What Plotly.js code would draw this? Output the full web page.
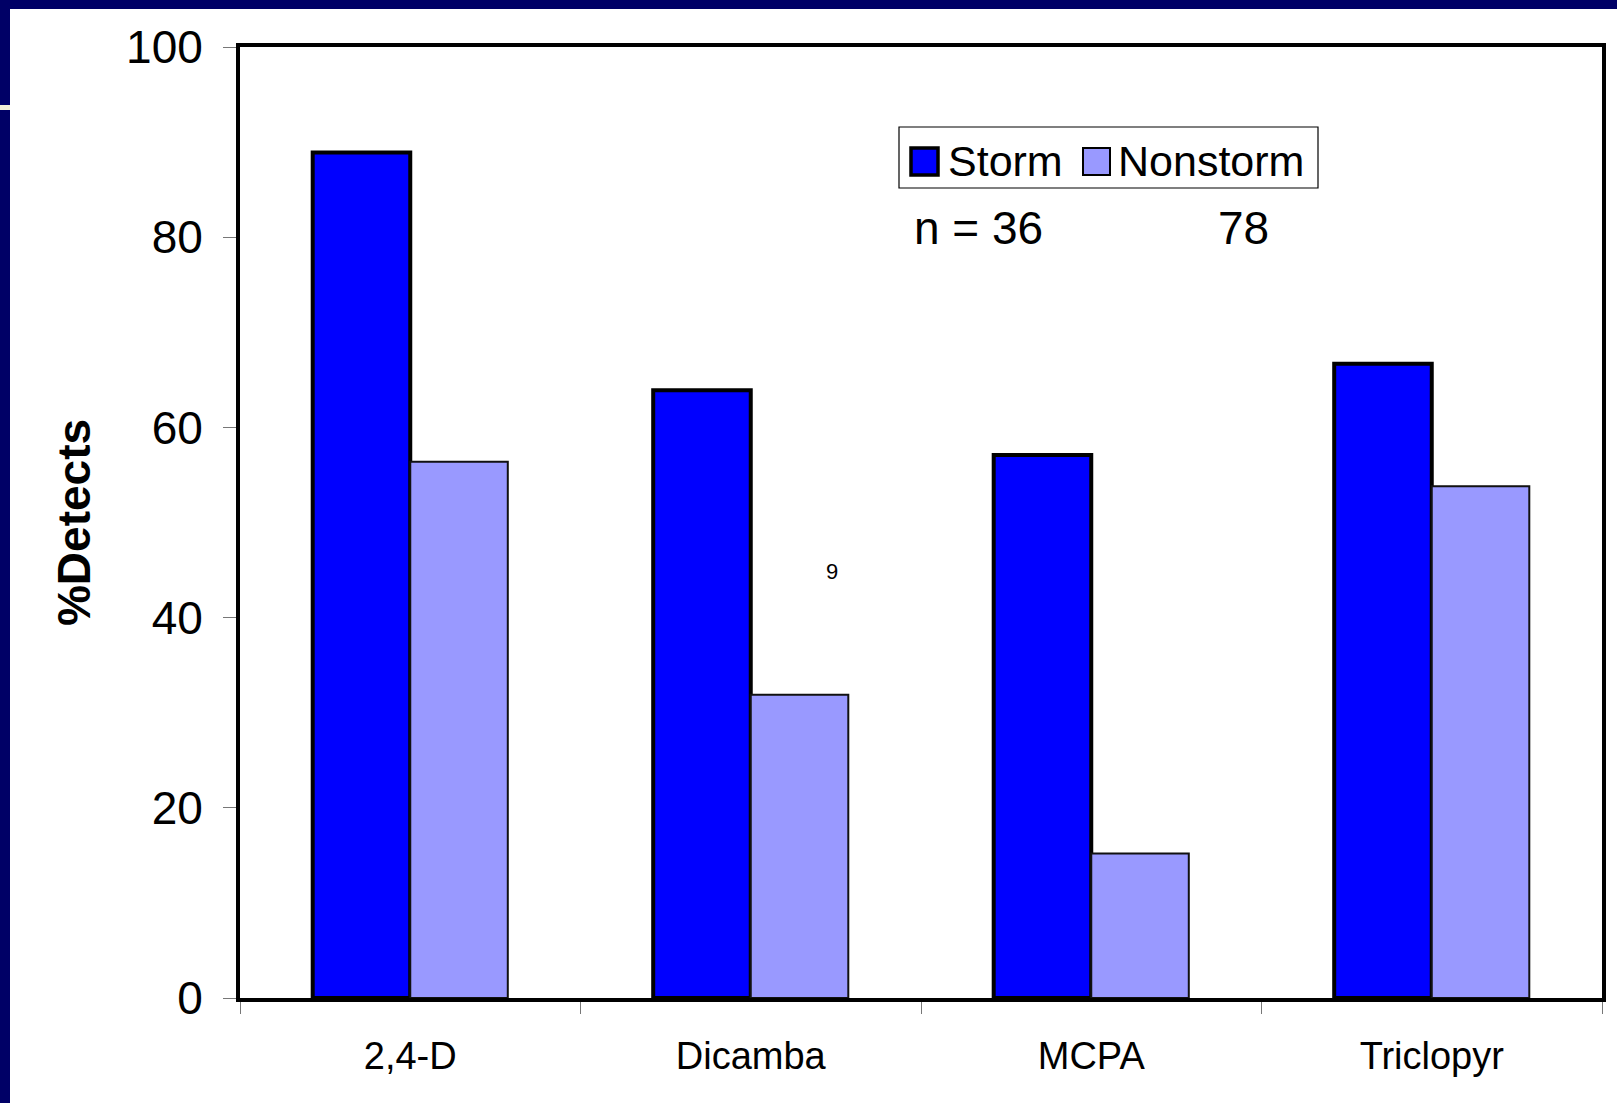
<!DOCTYPE html>
<html>
<head>
<meta charset="utf-8">
<script src="https://cdn.plot.ly/plotly-3.0.1.min.js"></script>
<style>
  html, body { margin: 0; padding: 0; background: #ffffff; }
  #chart { width: 1617px; height: 1103px; }
</style>
</head>
<body>
<div id="chart"></div>
<script>
// ---- data ----
const categories = ["2,4-D", "Dicamba", "MCPA", "Triclopyr"];
const seriesNames = ["Storm", "Nonstorm"];
const stormValues = [88.9, 63.9, 57.1, 66.7];
const nonstormValues = [56.4, 31.9, 15.2, 53.8];
const sampleSizeLabel = "n = 36";
const sampleSizeNonstorm = "78";
const strayLabel = "9";
const yTickValues = [0, 20, 40, 60, 80, 100];

// ---- styling ----
const FONT = "Liberation Sans, Arial, Helvetica, sans-serif";
const NAVY = "#000066";
const STORM_COLOR = "#0000FF";
const NONSTORM_COLOR = "#9999FF";

// pixel -> paper helpers (plot area: x 240..1602, y 47..998)
const L = 240, R = 1602, T = 47, B = 998;
const px = x => (x - L) / (R - L);
const py = y => (B - y) / (B - T);

const traces = [
  {
    type: "bar", name: seriesNames[0], x: categories, y: stormValues,
    marker: { color: STORM_COLOR, line: { color: "#000000", width: 4 } },
    hoverinfo: "skip", showlegend: false
  },
  {
    type: "bar", name: seriesNames[1], x: categories, y: nonstormValues,
    marker: { color: NONSTORM_COLOR, line: { color: "#111111", width: 2 } },
    hoverinfo: "skip", showlegend: false
  }
];

const shapes = [
  // navy slide frame
  { type: "rect", xref: "paper", yref: "paper", x0: px(0), x1: px(1617), y0: py(9), y1: py(0),
    fillcolor: NAVY, line: { width: 0 } },
  { type: "rect", xref: "paper", yref: "paper", x0: px(0), x1: px(10), y0: py(1103), y1: py(0),
    fillcolor: NAVY, line: { width: 0 } },
  { type: "rect", xref: "paper", yref: "paper", x0: px(0), x1: px(10), y0: py(110), y1: py(105),
    fillcolor: "#F3F0D8", line: { width: 0 } },
  // custom legend box
  { type: "rect", xref: "paper", yref: "paper", x0: px(899), x1: px(1318), y0: py(188), y1: py(127),
    fillcolor: "#ffffff", line: { color: "#000000", width: 1.2 } },
  { type: "rect", xref: "paper", yref: "paper", x0: px(911), x1: px(938), y0: py(175), y1: py(148),
    fillcolor: STORM_COLOR, line: { color: "#000000", width: 3.5 } },
  { type: "rect", xref: "paper", yref: "paper", x0: px(1083), x1: px(1110), y0: py(175), y1: py(148),
    fillcolor: NONSTORM_COLOR, line: { color: "#000000", width: 2 } }
];

const annotations = [
  { xref: "paper", yref: "paper", x: px(946), y: py(161), xanchor: "left", yanchor: "middle",
    text: seriesNames[0], showarrow: false, font: { family: FONT, size: 43, color: "#000" } },
  { xref: "paper", yref: "paper", x: px(1116), y: py(161), xanchor: "left", yanchor: "middle",
    text: seriesNames[1], showarrow: false, font: { family: FONT, size: 43, color: "#000" } },
  { xref: "paper", yref: "paper", x: px(978), y: py(228), xanchor: "center", yanchor: "middle",
    text: sampleSizeLabel, showarrow: false, font: { family: FONT, size: 46, color: "#000" } },
  { xref: "paper", yref: "paper", x: px(1243), y: py(228), xanchor: "center", yanchor: "middle",
    text: sampleSizeNonstorm, showarrow: false, font: { family: FONT, size: 46, color: "#000" } },
  { xref: "paper", yref: "paper", x: px(832), y: py(571), xanchor: "center", yanchor: "middle",
    text: strayLabel, showarrow: false, font: { family: FONT, size: 22, color: "#000" } }
];

const layout = {
  width: 1617, height: 1103,
  margin: { l: L, r: 1617 - R, t: T, b: 1103 - B, pad: 0 },
  paper_bgcolor: "#ffffff", plot_bgcolor: "#ffffff",
  barmode: "group", bargap: 0.427, bargroupgap: 0,
  showlegend: false,
  font: { family: FONT, color: "#000000" },
  xaxis: {
    type: "category",
    showline: true, linecolor: "#000000", linewidth: 4, mirror: true,
    showgrid: false, zeroline: false,
    ticks: "outside", tickson: "boundaries", ticklen: 12, tickwidth: 1, tickcolor: "#777777",
    tickfont: { family: FONT, size: 38, color: "#000" },
    ticklabelstandoff: 21,
    fixedrange: true
  },
  yaxis: {
    range: [0, 100], tickmode: "array", tickvals: yTickValues, ticktext: yTickValues.map(String),
    showline: true, linecolor: "#000000", linewidth: 4, mirror: true,
    showgrid: false, zeroline: false,
    ticks: "outside", ticklen: 13, tickwidth: 1, tickcolor: "#777777",
    tickfont: { family: FONT, size: 46, color: "#000" },
    ticklabelstandoff: 11,
    title: { text: "<b>%Detects</b>", font: { family: FONT, size: 46, color: "#000" }, standoff: 22 },
    automargin: false,
    fixedrange: true
  },
  shapes: shapes,
  annotations: annotations
};

Plotly.newPlot("chart", traces, layout, { staticPlot: true, displayModeBar: false });
</script>
</body>
</html>
